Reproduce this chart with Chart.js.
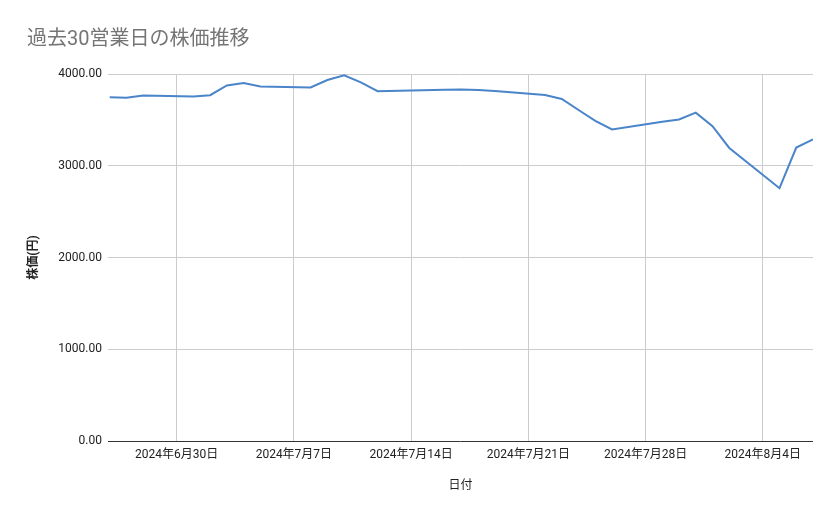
<!DOCTYPE html>
<html lang="ja">
<head>
<meta charset="utf-8">
<script src="https://cdn.jsdelivr.net/npm/chart.js@4.4.1/dist/chart.umd.min.js"></script>
<style>
  html, body { margin: 0; padding: 0; background: #fff; }
  #wrap { width: 839px; height: 519px; }
</style>
</head>
<body>
<div id="wrap"><canvas id="chart" width="839" height="519"></canvas></div>
<script>
// 営業日 (7/15 海の日は休場)
const tradeDates = [
  '2024-06-26', '2024-06-27', '2024-06-28',
  '2024-07-01', '2024-07-02', '2024-07-03', '2024-07-04', '2024-07-05',
  '2024-07-08', '2024-07-09', '2024-07-10', '2024-07-11', '2024-07-12',
  '2024-07-16', '2024-07-17', '2024-07-18', '2024-07-19',
  '2024-07-22', '2024-07-23', '2024-07-24', '2024-07-25', '2024-07-26',
  '2024-07-29', '2024-07-30', '2024-07-31', '2024-08-01', '2024-08-02',
  '2024-08-05', '2024-08-06', '2024-08-07'
];
const prices = [
  3747, 3740, 3766,
  3755, 3769, 3875, 3901, 3864,
  3853, 3934, 3985, 3908, 3813,
  3828, 3830, 3826, 3816,
  3772, 3728, 3608, 3490, 3396,
  3480, 3505, 3579, 3432, 3194,
  2755, 3198, 3286
];
const yTicks = [0, 1000, 2000, 3000, 4000];

const chartTitle = '過去30営業日の株価推移';
const xTitle = '日付';
const yTitle = '株価(円)';

// x軸は 2024-06-30 からの日数で持つ (日付アダプタなし)
const baseDay = Date.UTC(2024, 5, 30);
const DAY = 86400000;

function toDayNum(s) {
  const p = s.split('-').map(Number);
  return (Date.UTC(p[0], p[1] - 1, p[2]) - baseDay) / DAY;
}

function dayLabel(n) {
  const d = new Date(baseDay + n * DAY);
  return d.getUTCFullYear() + '年' + (d.getUTCMonth() + 1) + '月' + d.getUTCDate() + '日';
}

const points = tradeDates.map((d, i) => ({ x: toDayNum(d), y: prices[i] }));

const FONT = "Roboto, 'Noto Sans CJK JP', sans-serif";

new Chart(document.getElementById('chart').getContext('2d'), {
  type: 'line',
  data: {
    datasets: [{
      label: '株価',
      data: points,
      borderColor: '#4a84c9',
      backgroundColor: '#4a84c9',
      borderWidth: 2,
      pointRadius: 0,
      tension: 0,
      fill: false
    }]
  },
  options: {
    responsive: false,
    animation: false,
    devicePixelRatio: 1,
    layout: { padding: { left: 27, right: 26, top: 0, bottom: 0 } },
    plugins: {
      legend: { display: false },
      tooltip: { enabled: false },
      title: {
        display: true,
        text: chartTitle,
        align: 'start',
        color: '#757575',
        font: { family: FONT, size: 20, weight: 'normal' },
        padding: { top: 28, bottom: 22 }
      }
    },
    scales: {
      x: {
        type: 'linear',
        min: -4.1,
        max: 38,
        afterBuildTicks: (scale) => {
          scale.ticks = scale.ticks.filter(t => Math.abs(t.value % 7) < 1e-9);
        },
        afterFit: (scale) => { scale.height = 78; },
        ticks: {
          stepSize: 7,
          autoSkip: false,
          maxRotation: 0,
          padding: 7,
          color: '#222',
          font: { family: FONT, size: 12 },
          callback: (v) => dayLabel(v)
        },
        grid: { color: '#cccccc', lineWidth: 1, drawTicks: false },
        border: { display: false },
        title: {
          display: true,
          text: xTitle,
          color: '#222',
          font: { family: FONT, size: 12 },
          padding: { top: 4, bottom: 26 }
        }
      },
      y: {
        min: 0,
        max: 4000,
        afterBuildTicks: (scale) => {
          scale.ticks = yTicks.map(v => ({ value: v }));
        },
        afterFit: (scale) => { scale.width = 81; },
        ticks: {
          padding: 6,
          color: '#222',
          font: { family: FONT, size: 12 },
          callback: (v) => Number(v).toFixed(2)
        },
        grid: {
          color: (ctx) => ctx.tick && ctx.tick.value === 0 ? '#333333' : '#cccccc',
          lineWidth: 1,
          drawTicks: false
        },
        border: { display: false },
        title: {
          display: true,
          text: yTitle,
          color: '#222',
          font: { family: FONT, size: 12, weight: 'bold' },
          padding: { top: 0, bottom: 0 }
        }
      }
    }
  }
});
</script>
</body>
</html>
